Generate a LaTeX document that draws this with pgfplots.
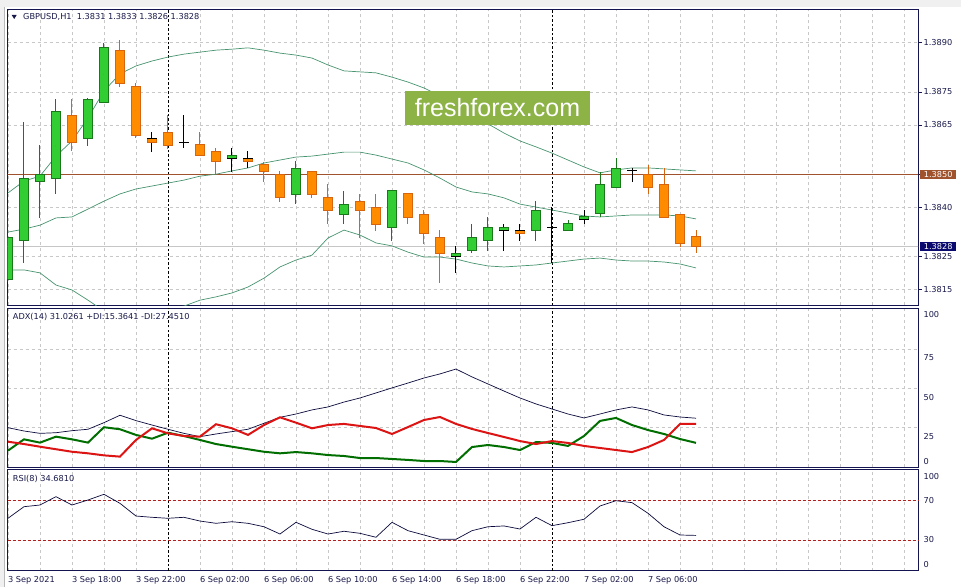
\documentclass[border=0pt]{standalone}
\usepackage{pgfplots}
\pgfplotsset{compat=1.18}
\usepackage{pgfplotstable}
\usepackage{fontspec}
\setmainfont{DejaVu Sans}
\newfontfamily\wmfont{Liberation Sans}
\newcommand\mtf{\fontsize{8.2}{9.5}\selectfont}

\definecolor{frame}{RGB}{20,20,80}
\definecolor{gridc}{RGB}{200,200,200}
\definecolor{bull}{RGB}{50,205,50}
\definecolor{bullline}{RGB}{25,120,25}
\definecolor{bear}{RGB}{255,140,0}
\definecolor{bearline}{RGB}{215,100,15}
\definecolor{band}{RGB}{72,148,112}
\definecolor{sienna}{RGB}{160,82,45}
\definecolor{curr}{RGB}{10,10,110}
\definecolor{adxc}{RGB}{10,10,60}
\definecolor{pdi}{RGB}{0,110,0}
\definecolor{mdi}{RGB}{220,20,20}
\definecolor{lvl}{RGB}{180,30,30}
\definecolor{wm}{RGB}{141,178,70}
\definecolor{txt}{RGB}{25,25,75}

% GBPUSD H1 candles
\pgfplotstableread{
k o h l c
0 1.38180 1.38371 1.38172 1.38308
1 1.38298 1.38660 1.38229 1.38487
2 1.38478 1.38589 1.38368 1.38500
3 1.38487 1.38729 1.38439 1.38689
4 1.38679 1.38729 1.38570 1.38597
5 1.38609 1.38732 1.38587 1.38728
6 1.38718 1.38898 1.38716 1.38886
7 1.38877 1.38908 1.38766 1.38776
8 1.38768 1.38778 1.38609 1.38617
9 1.38609 1.38629 1.38568 1.38597
10 1.38627 1.38680 1.38577 1.38587
11 1.38596 1.38680 1.38579 1.38596
12 1.38589 1.38629 1.38555 1.38556
13 1.38570 1.38580 1.38500 1.38538
14 1.38548 1.38580 1.38508 1.38558
15 1.38548 1.38570 1.38520 1.38538
16 1.38528 1.38536 1.38477 1.38508
17 1.38500 1.38510 1.38416 1.38430
18 1.38439 1.38541 1.38408 1.38518
19 1.38508 1.38509 1.38428 1.38439
20 1.38430 1.38470 1.38348 1.38389
21 1.38378 1.38449 1.38348 1.38408
22 1.38418 1.38440 1.38307 1.38389
23 1.38399 1.38440 1.38328 1.38348
24 1.38337 1.38450 1.38298 1.38449
25 1.38440 1.38441 1.38348 1.38368
26 1.38378 1.38391 1.38288 1.38320
27 1.38308 1.38330 1.38168 1.38259
28 1.38251 1.38282 1.38199 1.38259
29 1.38267 1.38349 1.38259 1.38308
30 1.38298 1.38369 1.38267 1.38339
31 1.38329 1.38349 1.38267 1.38339
32 1.38330 1.38349 1.38298 1.38320
33 1.38328 1.38418 1.38298 1.38391
34 1.38339 1.38400 1.38229 1.38339
35 1.38329 1.38361 1.38327 1.38349
36 1.38361 1.38391 1.38348 1.38371
37 1.38379 1.38508 1.38369 1.38470
38 1.38460 1.38548 1.38458 1.38518
39 1.38510 1.38518 1.38477 1.38510
40 1.38500 1.38528 1.38439 1.38460
41 1.38470 1.38518 1.38367 1.38369
42 1.38378 1.38380 1.38280 1.38288
43 1.38310 1.38330 1.38260 1.38280
}\ohlc

% Bollinger bands
\pgfplotstableread{
k up mid lo
0 1.38443 1.38324 1.38209
1 1.38479 1.38333 1.38209
2 1.38494 1.38345 1.38200
3 1.38555 1.38367 1.38163
4 1.38601 1.38370 1.38148
5 1.38671 1.38394 1.38117
6 1.38753 1.38418 1.38084
7 1.38805 1.38440 1.38075
8 1.38829 1.38455 1.38081
9 1.38844 1.38464 1.38084
10 1.38856 1.38473 1.38090
11 1.38865 1.38482 1.38099
12 1.38871 1.38494 1.38117
13 1.38877 1.38500 1.38127
14 1.38880 1.38510 1.38139
15 1.38884 1.38519 1.38157
16 1.38877 1.38534 1.38184
17 1.38868 1.38543 1.38218
18 1.38862 1.38552 1.38239
19 1.38853 1.38555 1.38254
20 1.38832 1.38561 1.38306
21 1.38814 1.38567 1.38330
22 1.38811 1.38567 1.38315
23 1.38808 1.38558 1.38291
24 1.38795 1.38546 1.38282
25 1.38780 1.38534 1.38263
26 1.38762 1.38513 1.38248
27 1.38738 1.38488 1.38248
28 1.38713 1.38461 1.38242
29 1.38683 1.38446 1.38230
30 1.38653 1.38440 1.38221
31 1.38625 1.38428 1.38218
32 1.38601 1.38409 1.38221
33 1.38583 1.38400 1.38224
34 1.38564 1.38391 1.38230
35 1.38543 1.38382 1.38236
36 1.38522 1.38373 1.38242
37 1.38504 1.38370 1.38245
38 1.38513 1.38373 1.38239
39 1.38519 1.38376 1.38236
40 1.38519 1.38376 1.38236
41 1.38516 1.38376 1.38233
42 1.38513 1.38373 1.38227
43 1.38510 1.38364 1.38215
}\bands

% ADX(14), +DI, -DI, RSI(8)
\pgfplotstableread{
k adx pdi mdi rsi
0 25.0 10.4 16.1 52.1
1 22.9 17.6 14.6 63.9
2 21.4 15.5 12.9 65.6
3 21.8 19.3 11.3 74.1
4 23.1 17.6 9.7 65.6
5 24.0 15.5 8.7 70.7
6 28.2 25.3 7.4 76.5
7 32.9 24.0 6.6 67.3
8 29.5 20.4 17.2 54.4
9 26.7 18.0 24.6 53.1
10 24.0 21.8 21.4 52.1
11 21.4 19.7 19.7 53.1
12 19.3 17.2 19.3 49.3
13 21.0 14.6 27.2 47.0
14 22.5 12.9 24.6 48.6
15 24.0 11.3 20.4 47.0
16 27.8 9.7 26.7 43.5
17 31.6 8.7 31.6 36.1
18 33.7 9.5 28.2 48.0
19 36.3 8.7 24.6 40.9
20 38.2 7.6 26.7 36.1
21 41.3 7.0 27.4 38.9
22 43.9 5.7 26.1 36.8
23 47.1 5.7 24.8 32.8
24 50.3 5.1 21.0 48.0
25 53.4 4.5 25.4 39.5
26 56.6 3.8 29.9 35.1
27 59.2 3.8 31.8 30.7
28 62.3 3.2 27.4 30.7
29 57.3 12.7 24.2 39.5
30 52.8 14.0 21.6 43.5
31 48.3 12.7 19.1 44.3
32 43.9 10.8 16.5 41.2
33 40.1 15.9 14.6 53.1
34 36.9 15.3 16.5 44.6
35 33.7 13.4 15.3 47.6
36 31.2 19.7 13.4 51.1
37 33.7 29.3 12.1 64.6
38 36.3 31.2 10.8 70.0
39 38.2 26.7 9.5 68.0
40 36.3 23.5 12.7 57.2
41 33.1 21.0 17.2 43.5
42 31.8 17.8 27.4 35.1
43 31.03 15.36 27.45 34.68
}\ind

\pgfplotsset{
  mtpanel/.style={
    scale only axis, anchor=south west,
    xmin=-0.03, xmax=56.875,
    axis line style={frame, line width=0.9pt},
    xtick={0,2,4,6,8,12,14,16,18,20,22,24,26,28,30,32,36,38,40,42,44,46,48,50,52,54,56},
    xticklabels={},
    xmajorgrids,
    major grid style={gridc, dash pattern=on 3pt off 3pt, line width=0.6pt},
    x tick style={draw=none},
    extra x ticks={10,34}, extra x tick labels={},
    extra x tick style={xmajorgrids, major grid style={black, dash pattern=on 2.5pt off 2pt, line width=0.8pt}},
    ytick pos=right, yticklabel pos=right, tick align=outside,
    y tick style={frame, line width=0.6pt}, major tick length=3.5pt,
    ticklabel style={font=\mtf, text=txt},
    yticklabel style={anchor=west, xshift=-1.5pt},
    scaled y ticks=false,
  },
  bodyplot/.style={only marks, mark size=0pt, mark options={draw=none, fill=none},
    unbounded coords=discard,
    error bars/.cd, y dir=both, y explicit, error mark=none},
}

\begin{document}
\begin{tikzpicture}
\useasboundingbox (0,0) rectangle (961pt,587pt);
\fill[white] (0,0) rectangle (961pt,587pt);
\fill[gray!12] (0,580pt) rectangle (961pt,587pt);
\fill[gray!12] (0,0) rectangle (4pt,587pt);
\draw[gray!55, line width=0.8pt] (4.5pt,0) -- (4.5pt,580pt);

% ---- price panel
\begin{axis}[mtpanel, at={(7.5pt,281.5pt)}, width=910.5pt, height=296.5pt,
  ymin=1.381008, ymax=1.390021,
  ytick={1.3815,1.3825,1.3840,1.3850,1.3865,1.3875,1.3890},
  ymajorgrids,
  yticklabel style={/pgf/number format/.cd, fixed, fixed zerofill, precision=4, assume math mode=true},
]
\addplot[gray!45, line width=0.8pt] coordinates {(-1,1.3828) (57,1.3828)};
\addplot[sienna, line width=0.8pt] coordinates {(-1,1.3850) (57,1.3850)};
\addplot[band, line width=0.7pt] table[x=k, y=up] {\bands};
\addplot[band, line width=0.7pt] table[x=k, y=mid] {\bands};
\addplot[band, line width=0.7pt] table[x=k, y=lo] {\bands};
% wicks
\addplot[bodyplot, error bar style={bullline, line width=1pt}]
  table[x=k, y expr={\thisrow{c}>\thisrow{o} ? 0.5*(\thisrow{h}+\thisrow{l}) : nan},
        y error expr={0.5*(\thisrow{h}-\thisrow{l})}] {\ohlc};
\addplot[bodyplot, error bar style={bearline, line width=1pt}]
  table[x=k, y expr={\thisrow{c}<\thisrow{o} ? 0.5*(\thisrow{h}+\thisrow{l}) : nan},
        y error expr={0.5*(\thisrow{h}-\thisrow{l})}] {\ohlc};
\addplot[bodyplot, error bar style={black, line width=1pt}]
  table[x=k, y expr={\thisrow{c}==\thisrow{o} ? 0.5*(\thisrow{h}+\thisrow{l}) : nan},
        y error expr={0.5*(\thisrow{h}-\thisrow{l})}] {\ohlc};
% bodies
\addplot[bodyplot, error bar style={bullline, line width=10pt}]
  table[x=k, y expr={\thisrow{c}>\thisrow{o} ? 0.5*(\thisrow{o}+\thisrow{c}) : nan},
        y error expr={0.5*abs(\thisrow{c}-\thisrow{o})+0.0000152}] {\ohlc};
\addplot[bodyplot, error bar style={bull, line width=8pt}]
  table[x=k, y expr={\thisrow{c}>\thisrow{o} ? 0.5*(\thisrow{o}+\thisrow{c}) : nan},
        y error expr={max(0.5*abs(\thisrow{c}-\thisrow{o})-0.0000152,0)}] {\ohlc};
\addplot[bodyplot, error bar style={bearline, line width=10pt}]
  table[x=k, y expr={\thisrow{c}<\thisrow{o} ? 0.5*(\thisrow{o}+\thisrow{c}) : nan},
        y error expr={0.5*abs(\thisrow{c}-\thisrow{o})+0.0000152}] {\ohlc};
\addplot[bodyplot, error bar style={bear, line width=8pt}]
  table[x=k, y expr={\thisrow{c}<\thisrow{o} ? 0.5*(\thisrow{o}+\thisrow{c}) : nan},
        y error expr={max(0.5*abs(\thisrow{c}-\thisrow{o})-0.0000152,0)}] {\ohlc};
% doji crosses
\addplot[only marks, mark size=0pt, mark options={draw=none, fill=none}, unbounded coords=discard,
  error bars/.cd, x dir=both, x explicit, error mark=none,
  error bar style={black, line width=1pt}]
  table[x=k, y expr={\thisrow{c}==\thisrow{o} ? \thisrow{o} : nan}, x error expr={0.34}] {\ohlc};
\coordinate (pA) at (axis cs:56.875,1.3850);
\coordinate (pB) at (axis cs:56.875,1.3828);
\end{axis}

% ---- ADX panel
\begin{axis}[mtpanel, at={(7.5pt,120pt)}, width=910.5pt, height=158.5pt,
  ymin=0, ymax=100.8,
  ytick={96.7,69.3,44.5,19.7,3.8}, yticklabels={100,75,50,25,0},
  y tick style={draw=none},
  extra y ticks={25,50,75}, extra y tick labels={},
  extra y tick style={ymajorgrids},
]
\addplot[adxc, line width=0.7pt] table[x=k, y=adx] {\ind};
\addplot[pdi, line width=2pt] table[x=k, y=pdi] {\ind};
\addplot[mdi, line width=2pt] table[x=k, y=mdi] {\ind};
\end{axis}

% ---- RSI panel
\begin{axis}[mtpanel, at={(7.5pt,16.3pt)}, width=910.5pt, height=101.4pt,
  ymin=-1.22, ymax=101.93,
  ytick={95.1,4.6}, yticklabels={100,0},
  y tick style={draw=none},
  extra y ticks={30,70}, extra y tick labels={30,70},
  extra y tick style={ymajorgrids, major grid style={lvl, dash pattern=on 3pt off 2pt, line width=0.7pt}},
  xticklabels={3 Sep 2021,,3 Sep 18:00,,3 Sep 22:00,6 Sep 02:00,,6 Sep 06:00,,6 Sep 10:00,,6 Sep 14:00,,6 Sep 18:00,,6 Sep 22:00,7 Sep 02:00,,7 Sep 06:00,,,,,,,,},
  xticklabel style={anchor=north west, xshift=-3.4pt, yshift=1pt},
]
\addplot[adxc, line width=0.7pt] table[x=k, y=rsi] {\ind};
\end{axis}

% headers and labels
\fill[txt] (11.7pt,572pt) -- (16.7pt,572pt) -- (14.2pt,568pt) -- cycle;
\node[anchor=west, inner sep=0pt, font=\mtf, text=txt] at (23pt,570pt) {GBPUSD,H1\ \ 1.3831 1.3833 1.3826 1.3828};
\node[anchor=west, inner sep=0pt, font=\mtf, text=txt] at (12.7pt,269.7pt) {ADX(14) 31.0261 +DI:15.3641 -DI:27.4510};
\node[anchor=west, inner sep=0pt, font=\mtf, text=txt] at (12.7pt,108pt) {RSI(8) 34.6810};
\node[fill=sienna, text=white, font=\mtf, anchor=west, inner sep=0pt, minimum width=36pt, minimum height=9pt, xshift=2pt] at (pA) {1.3850};
\node[fill=curr, text=white, font=\mtf, anchor=west, inner sep=0pt, minimum width=36pt, minimum height=8.5pt, xshift=2pt] at (pB) {1.3828};
\node[fill=wm, text=white, font=\wmfont\fontsize{25}{28}\selectfont, inner sep=0pt, minimum width=185pt, minimum height=34pt] at (497.5pt,479pt) {freshforex.com};
\end{tikzpicture}
\end{document}
